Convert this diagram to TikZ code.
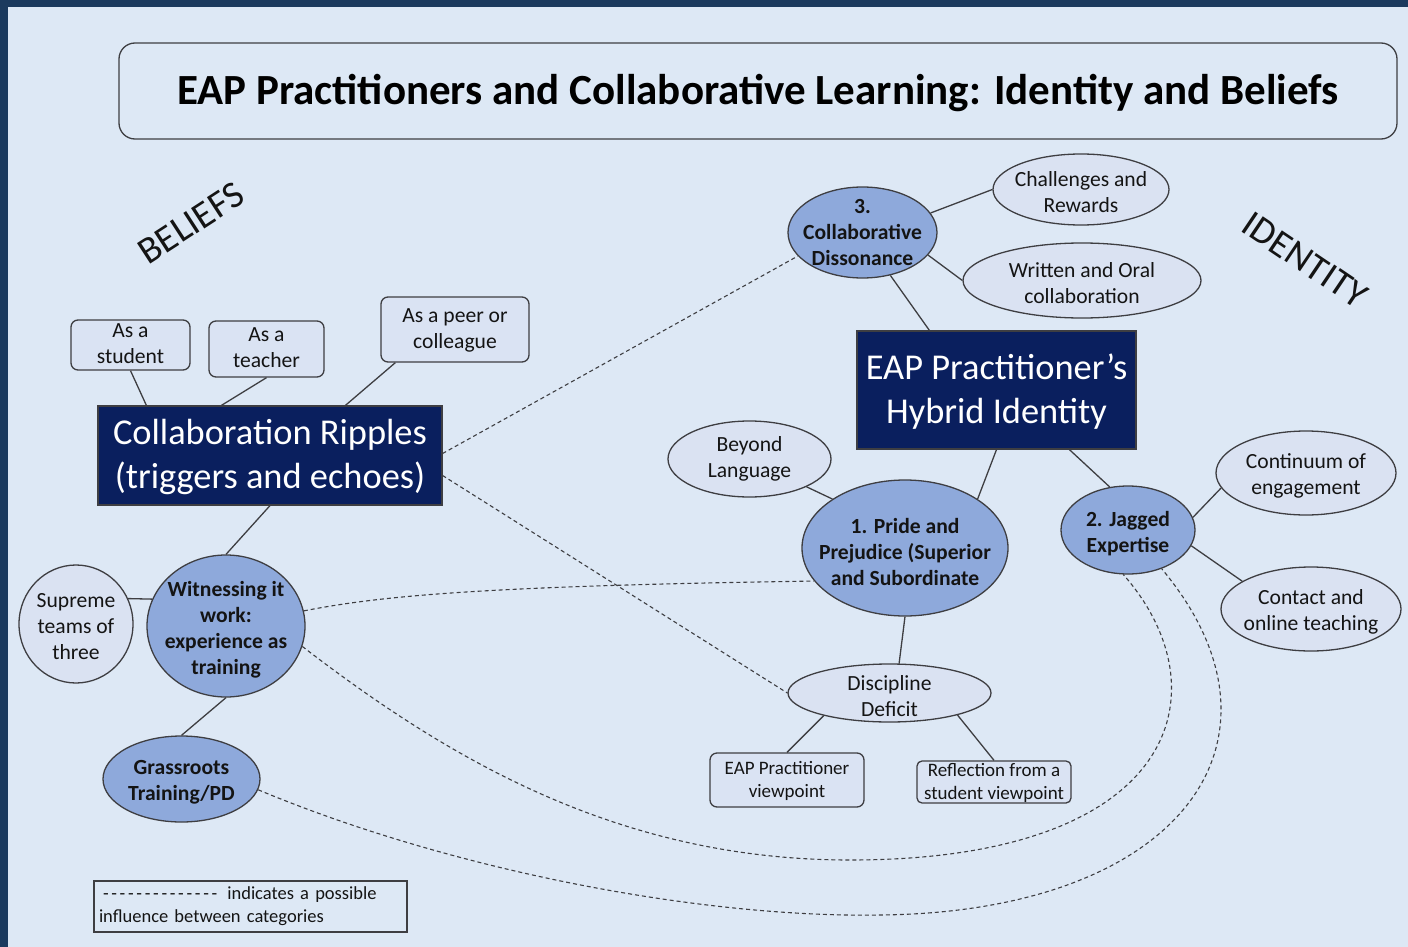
\documentclass[tikz,border=0pt]{standalone}
\usepackage{fontspec}
\setmainfont{Carlito}
\usetikzlibrary{shapes.geometric}

\definecolor{pagebg}{RGB}{221,232,245}
\definecolor{framecol}{RGB}{27,58,94}
\definecolor{navy}{RGB}{10,31,94}
\definecolor{ovalblue}{RGB}{142,169,219}
\definecolor{ovalpale}{RGB}{218,226,242}
\definecolor{boxfill}{RGB}{218,227,243}
\definecolor{edge}{RGB}{62,62,66}
\definecolor{ink}{RGB}{20,20,20}

\newcommand\hy{-\kern2.7pt}

\begin{document}
\begin{tikzpicture}[x=1pt,y=-1pt,
  lbl/.style={text=ink, align=center, inner sep=0pt, font=\fontsize{21.6}{26}\selectfont},
  rbox/.style={lbl, draw=edge, line width=1.3pt, fill=boxfill, rounded corners=7pt, text depth=2pt},
  navybox/.style={draw=edge, line width=1.2pt, fill=navy, text=white, align=center,
    inner sep=0pt, text depth=3pt, font=\fontsize{36.4}{44}\selectfont},
  oval/.style={ellipse, draw=edge, line width=1.3pt, inner sep=0pt},
  blueoval/.style={oval, fill=ovalblue},
  paleoval/.style={oval, fill=ovalpale},
  btext/.style={text=ink, align=center, inner sep=0pt, yshift=-3.5pt,
    font=\bfseries\fontsize{21.6}{26}\selectfont},
  ptext/.style={text=ink, align=center, inner sep=0pt, yshift=-3pt,
    font=\fontsize{21.6}{26}\selectfont},
  link/.style={draw=edge, line width=1.3pt},
  hint/.style={draw=edge, line width=1.1pt, dash pattern=on 4pt off 3pt},
  sidehead/.style={text=ink, inner sep=0pt, font=\fontsize{38}{44}\selectfont}]

\useasboundingbox (0,0) rectangle (1408,947);
% page and frame
\fill[pagebg] (0,0) rectangle (1408,947);
\fill[framecol] (0,0) rectangle (1408,7);
\fill[framecol] (0,0) rectangle (8,947);

% title
\node[draw=edge, line width=1.3pt, fill=pagebg, rounded corners=16pt,
  minimum width=1278pt, minimum height=96pt, text=black, text depth=3pt,
  font=\bfseries\fontsize{43}{48}\selectfont] (title) at (758,91)
  {EAP Practitioners and Collaborative Learning: Identity and Beliefs};

% side headings
\node[sidehead, rotate=33] (beliefs) at (191,223) {BELIEFS};
\node[sidehead, rotate=-34] (identity) at (1305,260) {IDENTITY};

% beliefs branch
\node[rbox, minimum width=119pt, minimum height=50pt] (student) at (130.5,345) {As a\\student};
\node[rbox, minimum width=115pt, minimum height=56pt] (teacher) at (266.5,349) {As a\\teacher};
\node[rbox, minimum width=148pt, minimum height=65pt] (peer) at (455,329.5) {As a peer or\\colleague};
\node[navybox, minimum width=344pt, minimum height=99pt] (ripples) at (270,455.5)
  {Collaboration Ripples\\(triggers and echoes)};
\node[blueoval, minimum width=158pt, minimum height=142pt,
  label={[btext]center:{Witnessing it\\work:\\experience as\\training}}] (wit) at (226,626) {};
\node[paleoval, minimum width=114pt, minimum height=118pt,
  label={[ptext]center:{Supreme\\teams of\\three}}] (sup) at (76,624) {};
\node[blueoval, minimum width=157pt, minimum height=86pt,
  label={[btext]center:{Grassroots\\Training/PD}}] (grass) at (181.5,779) {};

% identity branch
\node[blueoval, minimum width=149pt, minimum height=91pt,
  label={[btext, yshift=3.5pt]center:{3.\\Collaborative\\Dissonance}}] (cd) at (862.5,232.5) {};
\node[paleoval, minimum width=176pt, minimum height=71pt,
  label={[ptext]center:{Challenges and\\Rewards}}] (chal) at (1081,189.5) {};
\node[paleoval, minimum width=238pt, minimum height=75pt,
  label={[ptext]center:{Written and Oral\\collaboration}}] (writ) at (1082,280.5) {};
\node[navybox, minimum width=279pt, minimum height=118pt] (hyb) at (996.5,390)
  {EAP Practitioner’s\\Hybrid Identity};
\node[paleoval, minimum width=163pt, minimum height=76pt,
  label={[ptext, yshift=3pt]center:{Beyond\\Language}}] (beyond) at (749.5,459) {};
\node[blueoval, minimum width=206pt, minimum height=136pt,
  label={[btext]center:{1. Pride and\\Prejudice (Superior\\and Subordinate}}] (pride) at (905,548) {};
\node[blueoval, minimum width=134pt, minimum height=88pt,
  label={[btext]center:{2. Jagged\\Expertise}}] (jag) at (1128,530) {};
\node[paleoval, minimum width=180pt, minimum height=84pt,
  label={[ptext]center:{Continuum of\\engagement}}] (cont) at (1306,473) {};
\node[paleoval, minimum width=180pt, minimum height=84pt,
  label={[ptext]center:{Contact and\\online teaching}}] (contact) at (1311,609) {};
\node[paleoval, minimum width=203pt, minimum height=58pt,
  label={[ptext]center:{Discipline\\Deficit}}] (disc) at (889.5,693) {};
\node[rbox, font=\fontsize{19}{23}\selectfont, minimum width=154pt, minimum height=54pt]
  (eapv) at (787,780) {EAP Practitioner\\viewpoint};
\node[rbox, font=\fontsize{19}{23}\selectfont, rounded corners=5pt,
  minimum width=154pt, minimum height=42pt]
  (refl) at (994,782) {Reflection from a\\student viewpoint};

% legend
\node[draw=edge, line width=1.2pt, fill=pagebg, text=ink, align=left,
  minimum width=313pt, minimum height=51pt, text width=303pt, inner sep=5pt,
  font=\fontsize{18.5}{23}\selectfont] (legend) at (250.5,906.5)
  {\kern4pt\hy\hy\hy\hy\hy\hy\hy\hy\hy\hy\hy\hy\hy-\kern10pt indicates a possible\\influence between categories};

% solid links
\draw[link] (student.south) -- ([xshift=49pt]ripples.north west);
\draw[link] (teacher.south) -- ([xshift=124pt]ripples.north west);
\draw[link] ([xshift=15pt]peer.south west) -- ([xshift=248pt]ripples.north west);
\draw[link] (ripples.south) -- (wit.north);
\draw[link] (sup.26) -- (wit.160);
\draw[link] (wit.south) -- (grass.north);

\draw[link] (cd.16) -- (chal.west);
\draw[link] (cd.-19) -- (writ.west);
\draw[link] (cd.-57) -- ([xshift=73pt]hyb.north west);
\draw[link] (hyb.south) -- (pride.34);
\draw[link] (beyond.-26) -- (pride.146);
\draw[link] ([xshift=213pt]hyb.south west) -- (jag.113);
\draw[link] (jag.11) -- (cont.190);
\draw[link] (jag.-14) -- (contact.158);
\draw[link] (pride.south) -- (disc.72);
\draw[link] (disc.-161) -- (eapv.north);
\draw[link] (disc.-18) -- (refl.north);

% possible influences
\draw[hint] ([yshift=2pt]ripples.east) -- (cd.200);
\draw[hint] ([yshift=-20pt]ripples.east) -- (disc.west);
\draw[hint] (wit.11) .. controls (380,596) and (480,586) .. (pride.200);
\draw[hint] (wit.-15) .. controls (450,760) and (620,860) .. (850,860)
  .. controls (1180,860) and (1225,690) .. (jag.-96);
\draw[hint] (grass.-8) .. controls (450,870) and (700,918) .. (880,915)
  .. controls (1180,912) and (1305,740) .. (jag.-49);
\end{tikzpicture}
\end{document}
